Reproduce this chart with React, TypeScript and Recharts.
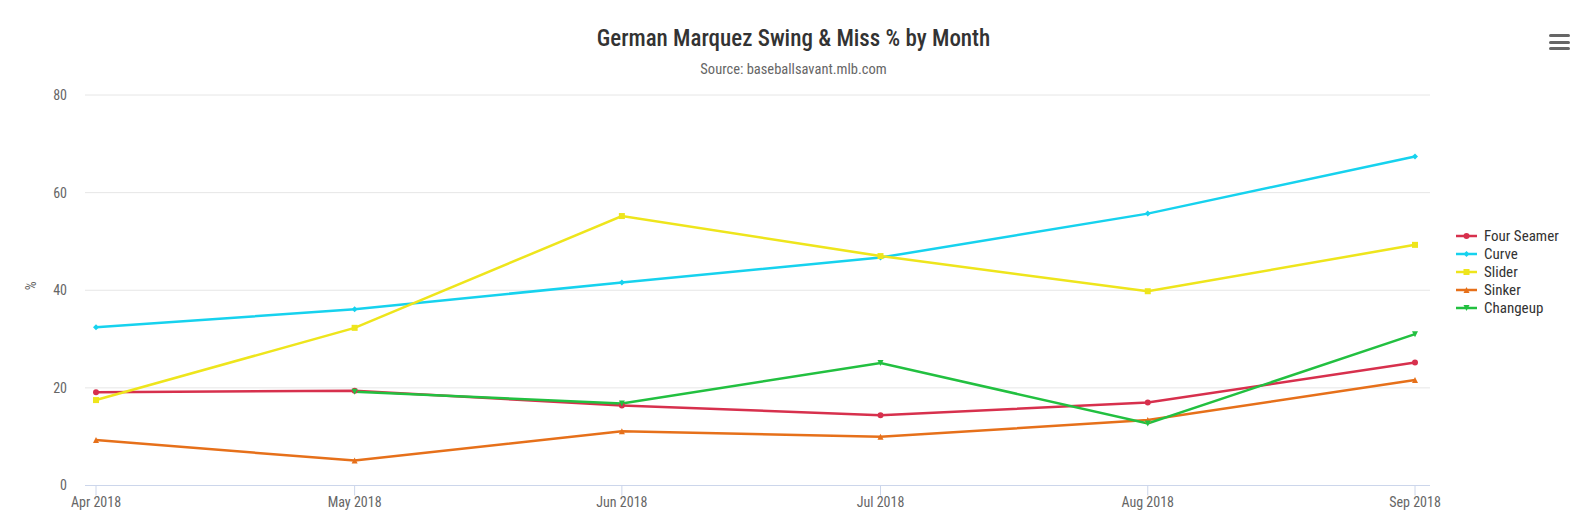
import React from 'react';
import { LineChart, Line, XAxis, YAxis, CartesianGrid } from 'recharts';

// month starts as day-of-year 2018 (datetime axis)
const monthDays = [91, 121, 152, 182, 213, 244];
const monthLabels = ['Apr 2018', 'May 2018', 'Jun 2018', 'Jul 2018', 'Aug 2018', 'Sep 2018'];
const yTicks = [0, 20, 40, 60, 80];

const fourSeamer = [19.1, 19.4, 16.4, 14.4, 17.0, 25.2];
const curve = [32.4, 36.1, 41.6, 46.7, 55.7, 67.4];
const slider = [17.5, 32.3, 55.2, 47.0, 39.8, 49.3];
const sinker = [9.3, 5.1, 11.1, 10.0, 13.4, 21.6];
const changeup = [null, 19.2, 16.8, 25.1, 12.7, 31.0];

const seriesNames = ['Four Seamer', 'Curve', 'Slider', 'Sinker', 'Changeup'];
const seriesKeys = ['fourSeamer', 'curve', 'slider', 'sinker', 'changeup'];
const seriesColors = ['#d7304d', '#16d2ee', '#eee51c', '#e6701a', '#22c040'];
const seriesSymbols = ['circle', 'diamond', 'square', 'triangle', 'triangle-down'];

const data = monthDays.map((day, i) => ({
  day,
  fourSeamer: fourSeamer[i],
  curve: curve[i],
  slider: slider[i],
  sinker: sinker[i],
  changeup: changeup[i],
}));

const FONT = "'Roboto Condensed', 'Liberation Sans Narrow', 'Arial Narrow', Roboto, sans-serif";

const Marker = ({ cx, cy, symbol, color }: { cx: number; cy: number; symbol: string; color: string }) => {
  if (cx == null || cy == null || isNaN(cy)) return null;
  const s = 3;
  switch (symbol) {
    case 'circle':
      return <circle cx={cx} cy={cy} r={s} fill={color} />;
    case 'diamond':
      return <path d={`M${cx} ${cy - s}L${cx + s} ${cy}L${cx} ${cy + s}L${cx - s} ${cy}Z`} fill={color} />;
    case 'square':
      return <rect x={cx - s} y={cy - s} width={s * 2} height={s * 2} fill={color} />;
    case 'triangle':
      return <path d={`M${cx} ${cy - s}L${cx + s} ${cy + s}L${cx - s} ${cy + s}Z`} fill={color} />;
    default:
      return <path d={`M${cx - s} ${cy - s}L${cx + s} ${cy - s}L${cx} ${cy + s}Z`} fill={color} />;
  }
};

const LegendBox = () => (
  <div style={{ position: 'absolute', left: 1456, top: 227, fontFamily: FONT, fontSize: 15, color: '#333' }}>
    {seriesNames.map((name, i) => (
      <div key={name} style={{ display: 'flex', alignItems: 'center', height: 18 }}>
        <svg width={24} height={12} style={{ marginRight: 4 }}>
          <line x1={0} y1={6} x2={21} y2={6} stroke={seriesColors[i]} strokeWidth={2.5} />
          <Marker cx={10.5} cy={6} symbol={seriesSymbols[i]} color={seriesColors[i]} />
        </svg>
        <span>{name}</span>
      </div>
    ))}
  </div>
);

export default function App() {
  return (
    <div style={{ position: 'relative', width: 1587, height: 532, background: '#fff', fontFamily: FONT }}>
      <style dangerouslySetInnerHTML={{ __html: `body { margin: 0; }` }} />
      <div style={{ position: 'absolute', top: 25, left: 0, width: 1587, textAlign: 'center', fontSize: 23, color: '#333', fontWeight: 500 }}>
        German Marquez Swing &amp; Miss % by Month
      </div>
      <div style={{ position: 'absolute', top: 61, left: 0, width: 1587, textAlign: 'center', fontSize: 14.5, color: '#666' }}>
        Source: baseballsavant.mlb.com
      </div>
      <div style={{ position: 'absolute', left: 1549, top: 34 }}>
        {[0, 1, 2].map((k) => (
          <div key={k} style={{ width: 21, height: 3, borderRadius: 2, background: '#666', marginBottom: 3.5 }} />
        ))}
      </div>
      <LegendBox />
      <LineChart width={1587} height={532} data={data} margin={{ top: 95, right: 157, bottom: 16.5, left: 25 }}>
        <CartesianGrid horizontal vertical={false} stroke="#e6e6e6" />
        <XAxis
          dataKey="day"
          type="number"
          domain={[91, 244]}
          ticks={monthDays}
          tickFormatter={(d) => monthLabels[monthDays.indexOf(d)]}
          padding={{ left: 11, right: 15 }}
          height={30}
          stroke="#ccd6eb"
          tickSize={10}
          tickMargin={2}
          tick={{ fill: '#666', fontSize: 14, fontFamily: FONT }}
          interval={0}
        />
        <YAxis
          domain={[0, 80]}
          ticks={yTicks}
          width={60}
          axisLine={false}
          tickLine={false}
          tickSize={0}
          tickMargin={18}
          tick={{ fill: '#666', fontSize: 14, fontFamily: FONT }}
          label={{ value: '%', angle: -90, position: 'insideLeft', offset: 6, fill: '#666', fontSize: 14, fontFamily: FONT }}
        />
        {seriesKeys.map((key, i) => (
          <Line
            key={key}
            dataKey={key}
            name={seriesNames[i]}
            type="linear"
            stroke={seriesColors[i]}
            strokeWidth={2.5}
            isAnimationActive={false}
            connectNulls={false}
            dot={(p: any) => <Marker key={`${key}-${p.index}`} cx={p.cx} cy={p.cy} symbol={seriesSymbols[i]} color={seriesColors[i]} />}
            activeDot={false}
          />
        ))}
      </LineChart>
    </div>
  );
}
